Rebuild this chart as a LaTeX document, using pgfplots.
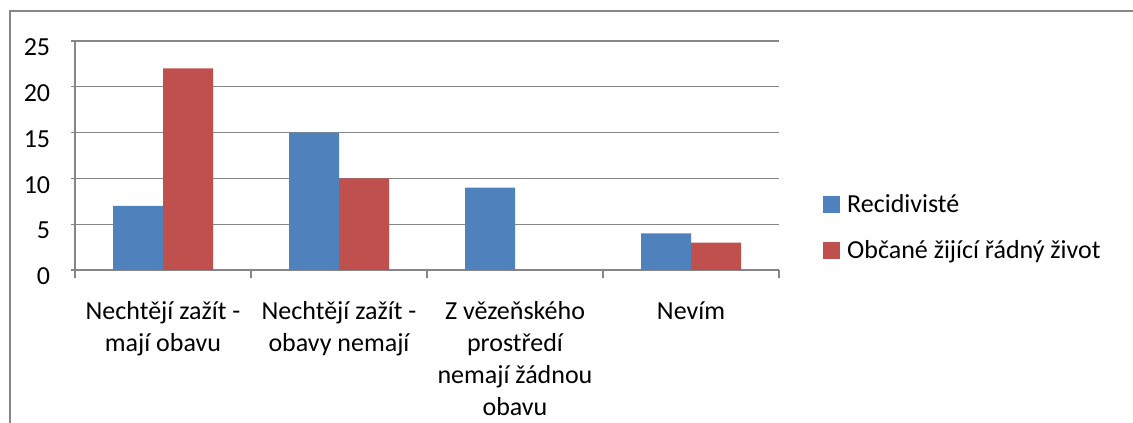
\documentclass[border=0pt]{standalone}
\usepackage{fontspec}
\setmainfont{Carlito}
\usepackage{pgfplots}
\pgfplotsset{compat=1.18}
\definecolor{exblue}{HTML}{4F81BD}
\definecolor{exred}{HTML}{C0504D}
\definecolor{exgray}{HTML}{868686}
\begin{document}
\fontsize{26pt}{32pt}\selectfont
\begin{tikzpicture}
\path[use as bounding box] (0pt,0pt) rectangle (1133pt,423pt);
\clip (0pt,0pt) rectangle (1133pt,423pt);
\draw[exgray, line width=1.5pt] (10pt,412pt) rectangle (1150pt,-20pt);
\begin{axis}[
  at={(75pt,153pt)}, anchor=south west,
  scale only axis, width=704pt, height=229pt,
  xmin=0, xmax=4, ymin=0, ymax=25,
  ytick={0,5,10,15,20,25},
  xtick={0.5,1.5,2.5,3.5},
  xticklabels={{Nechtějí zažít -\\mají obavu},{Nechtějí zažít -\\obavy nemají},{Z vězeňského\\prostředí\\nemají žádnou\\obavu},{Nevím}},
  minor xtick={0,1,2,3,4},
  major x tick style={draw=none},
  minor tick length=8pt,
  major tick length=8pt,
  tick align=outside,
  tick style={exgray, line width=1.3pt},
  axis x line=bottom, axis y line=left,
  axis line style={exgray, line width=1.3pt, -},
  ymajorgrids,
  major grid style={exgray, line width=1.3pt},
  /pgf/number format/assume math mode=true,
  yticklabel style={anchor=east, xshift=-12pt, yshift=-6.5pt},
  xticklabel style={anchor=north, align=center, yshift=-15pt},
  ybar=0pt, bar width=50pt,
  legend style={draw=none, fill=none, at={(1.0625,0.177)}, anchor=west, inner sep=0pt, row sep=13pt, legend cell align=left, nodes={inner xsep=7pt, inner ysep=3.5pt, text height=19.5pt, text depth=6.5pt}},
  legend image code/.code={\fill[#1] (0pt,-6.5pt) rectangle (17pt,10.5pt);},
]
\addplot[fill=exblue, draw=none] coordinates {(0.5,7) (1.5,15) (2.5,9) (3.5,4)};
\addplot[fill=exred, draw=none] coordinates {(0.5,22) (1.5,10) (2.5,0) (3.5,3)};
\legend{Recidivisté, Občané žijící řádný život}
\end{axis}
\end{tikzpicture}
\end{document}
